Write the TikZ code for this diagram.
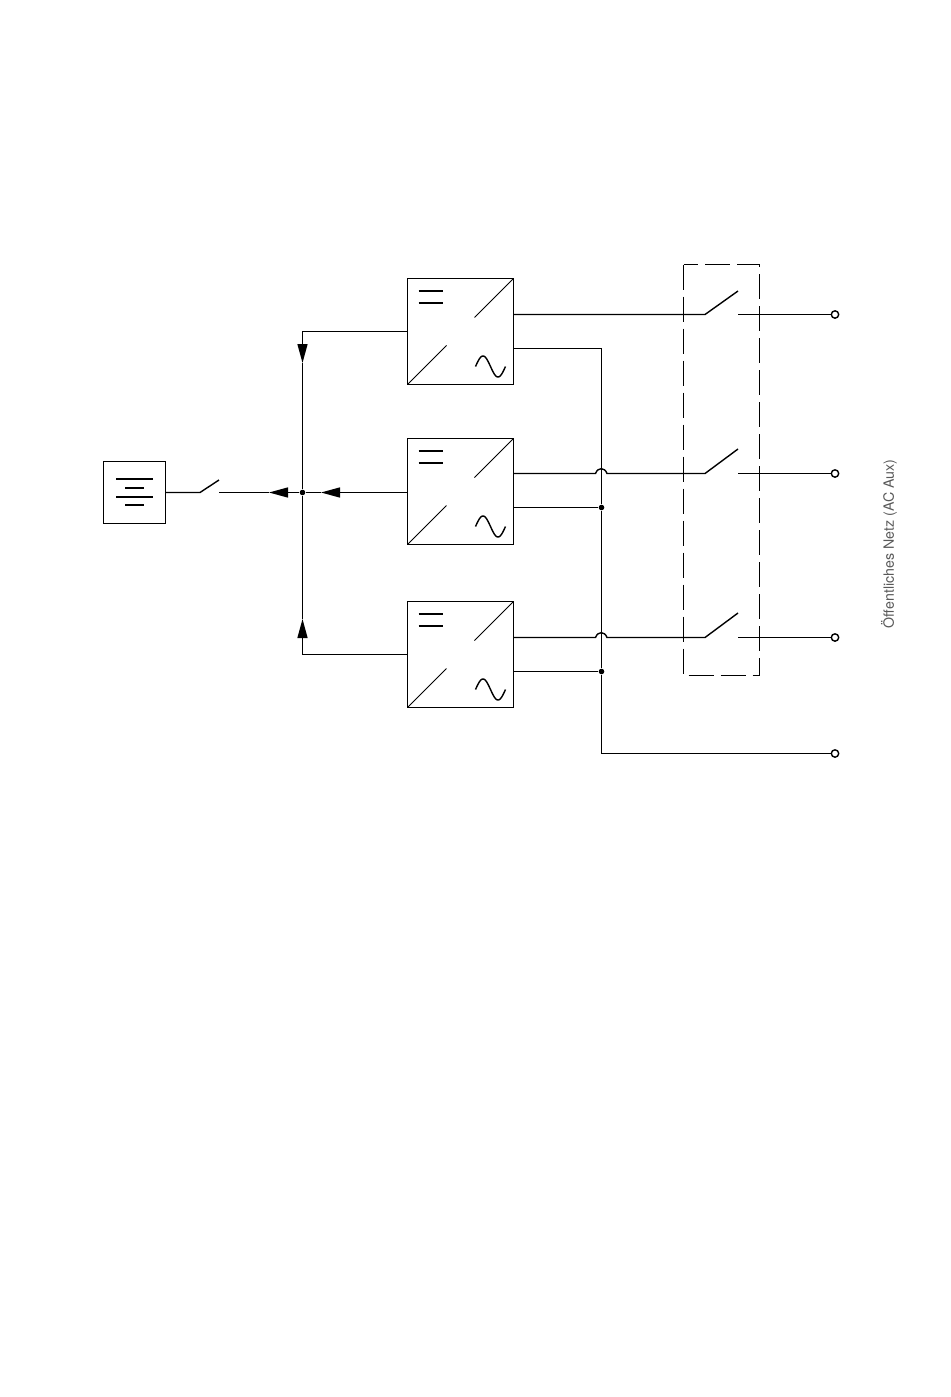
\documentclass[tikz,border=0pt]{standalone}
\usepackage{fontspec}
\setsansfont{TeX Gyre Heros}
\usetikzlibrary{arrows.meta}

\tikzset{
  conv/.style={draw,rectangle,inner sep=0pt,minimum size=53pt},
  batt/.style={draw,rectangle,inner sep=0pt,minimum size=31pt},
  term/.style={draw,circle,fill=white,inner sep=0pt,minimum size=3.7pt},
  junc/.style={fill,circle,inner sep=0pt,minimum size=2.8pt},
  tip/.style={-{Triangle[length=9.5pt,width=5pt]}},
  sym/.style={line width=0.5pt},
  bar/.style={line width=1pt},
}

\begin{document}
\begin{tikzpicture}[x=0.5pt,y=-0.5pt,every path/.style={line width=0.7pt}]
\useasboundingbox (0,0) rectangle (950,1397);

\node (batt) [batt] at (134.5,492.5) {};
\node (convA) [conv] at (460.5,331.5) {};
\node (convB) [conv] at (460.5,491.5) {};
\node (convC) [conv] at (460.5,654.5) {};

\node (termA) [term] at (835,314.5) {};
\node (termB) [term] at (835,473.5) {};
\node (termC) [term] at (835,637.5) {};
\node (termN) [term] at (835,753.5) {};

\node (juncDC) [junc] at (302.5,492.5) {};
\node (juncB) [junc] at (601.5,507.5) {};
\node (juncC) [junc] at (601.5,671.5) {};

\node (netz) [rotate=90,text=black!65,font=\sffamily\fontsize{7.1}{9}\selectfont] at (889,544) {Öffentliches Netz (AC Aux)};

% battery
\draw[bar] (116,479) -- (153,479);
\draw[bar] (125,488) -- (144,488);
\draw[bar] (116,497) -- (153,497);
\draw[bar] (125,505) -- (144,505);

% converter symbols
\foreach \conv in {convA,convB,convC} {
  \begin{scope}[shift={(\conv.center)}]
    \draw[sym] (53,-53) -- (14,-14);
    \draw[sym] (-53,53) -- (-14,14);
    \draw[bar] (-42,-40.5) -- (-18,-40.5);
    \draw[bar] (-42,-28.5) -- (-18,-28.5);
    \draw plot[domain=0:360,samples=37,smooth] ({15+\x/12},{35-10.5*sin(\x)});
  \end{scope}
}

% battery side
\coordinate (swBattA) at (200,492.5);
\coordinate (swBattB) at (219,480);
\coordinate (swBattC) at (219,492.5);
\coordinate (tipBatt) at (269,492.5);
\coordinate (tipB) at (321,492.5);
\coordinate (cornerA) at (302.5,331.5);
\coordinate (tipA) at (302.5,363);
\coordinate (cornerC) at (302.5,654.5);
\coordinate (tipC) at (302.5,619);

\draw (batt.east) -- (swBattA) -- (swBattB);
\draw[tip] (juncDC) -- (tipBatt);
\draw (tipBatt) -- (swBattC);
\draw[tip] (convB.west |- juncDC) -- (tipB);
\draw (tipB) -- (juncDC);
\draw[tip] (convA.west) -- (cornerA) -- (tipA);
\draw[tip] (convC.west) -- (cornerC) -- (tipC);
\draw (tipA) -- (juncDC) -- (tipC);

% outputs
\coordinate (outA) at (513.5,314.5);
\coordinate (retA) at (513.5,348.5);
\coordinate (outB) at (513.5,473.5);
\coordinate (retB) at (513.5,507.5);
\coordinate (outC) at (513.5,637.5);
\coordinate (retC) at (513.5,671.5);
\coordinate (busTop) at (601.5,348.5);
\coordinate (busEnd) at (601.5,753.5);

\draw (retA) -- (busTop) -- (juncB) -- (juncC) -- (busEnd) -- (termN);
\draw (retB) -- (juncB);
\draw (retC) -- (juncC);

\coordinate (swA) at (705,314.5);
\coordinate (swAtop) at (738,291);
\coordinate (swAout) at (738,314.5);
\coordinate (swB) at (705,473.5);
\coordinate (swBtop) at (738,449);
\coordinate (swBout) at (738,473.5);
\coordinate (swC) at (705,637.5);
\coordinate (swCtop) at (738,613);
\coordinate (swCout) at (738,637.5);
\coordinate (jmpBa) at (595.5,473.5);
\coordinate (jmpBb) at (607,473.5);
\coordinate (jmpCa) at (595.5,637.5);
\coordinate (jmpCb) at (607,637.5);

\draw (outA) -- (swA) -- (swAtop);
\draw (outB) -- (jmpBa) .. controls (598,467) and (604.5,467) .. (jmpBb) -- (swB) -- (swBtop);
\draw (outC) -- (jmpCa) .. controls (598,631) and (604.5,631) .. (jmpCb) -- (swC) -- (swCtop);
\draw (swAout) -- (termA);
\draw (swBout) -- (termB);
\draw (swCout) -- (termC);

% relay frame
\draw[dash pattern=on 12.5pt off 3.5pt] (683.5,264.5) rectangle (759.5,675.5);

\end{tikzpicture}
\end{document}
